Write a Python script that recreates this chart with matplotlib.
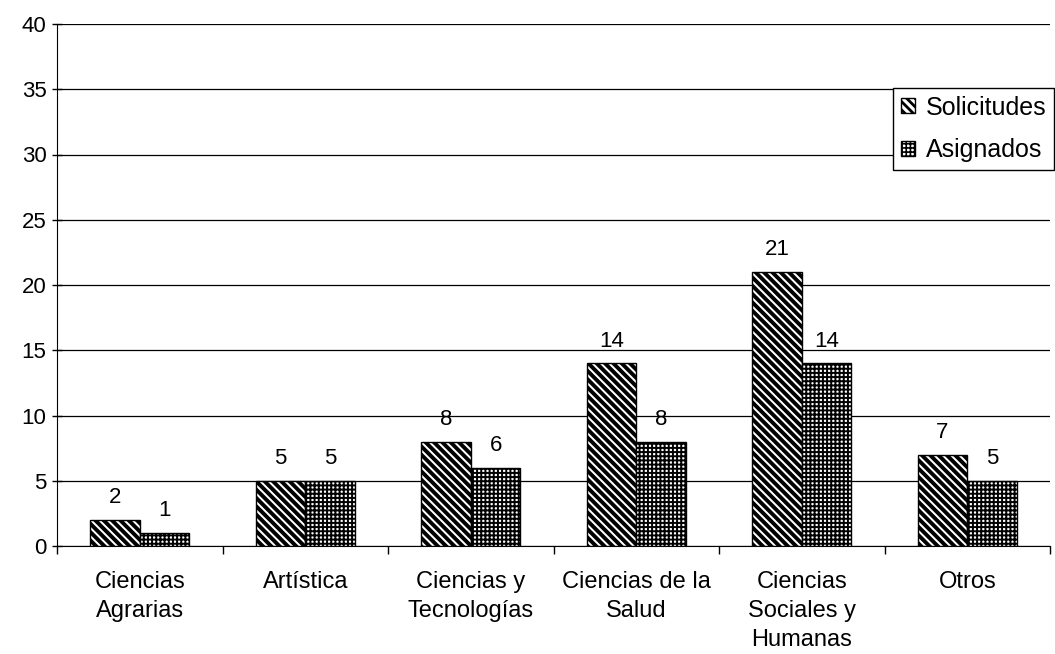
import matplotlib
matplotlib.use("Agg")
import matplotlib.pyplot as plt
import numpy as np

categories = ["Ciencias\nAgrarias", "Artística", "Ciencias y\nTecnologías",
              "Ciencias de la\nSalud", "Ciencias\nSociales y\nHumanas", "Otros"]
solicitudes = [2, 5, 8, 14, 21, 7]
asignados = [1, 5, 6, 8, 14, 5]
yticks = [0, 5, 10, 15, 20, 25, 30, 35, 40]

plt.rcParams['font.family'] = ['Liberation Sans', 'DejaVu Sans']
plt.rcParams['hatch.linewidth'] = 1.3
FS = 16

fig = plt.figure(figsize=(10.55, 6.54), dpi=100)
ax = fig.add_axes([57/1055, 1-546/654, (1050-57)/1055, (546-24)/654])

x = np.arange(len(categories))
w = 0.30
HLW1, HLW2 = 2.8, 1.4
b1 = ax.bar(x - w/2, solicitudes, w, facecolor='white', edgecolor='black',
            hatch='\\\\\\\\', linewidth=1.0, label='Solicitudes', zorder=3)
b2 = ax.bar(x + w/2, asignados, w, facecolor='white', edgecolor='black',
            hatch='++++', linewidth=1.0, label='Asignados', zorder=3)


def set_hlw(p, lw):
    try:
        p.set_hatch_linewidth(lw)
    except Exception:
        pass


for p in b1:
    set_hlw(p, HLW1)
for p in b2:
    set_hlw(p, HLW2)

for rect, v in zip(b1, solicitudes):
    ax.text(rect.get_x() + rect.get_width()/2, v + 0.9, str(v), ha='center',
            va='bottom', fontsize=FS)
for rect, v in zip(b2, asignados):
    ax.text(rect.get_x() + rect.get_width()/2, v + 0.9, str(v), ha='center',
            va='bottom', fontsize=FS)

ax.set_xlim(-0.5, len(categories) - 0.5)
ax.set_ylim(0, 40)
ax.set_yticks(yticks)
ax.tick_params(axis='y', labelsize=FS, length=7, direction='inout', width=1, pad=4)
ax.yaxis.grid(True, color='black', linewidth=0.9, zorder=0)
ax.set_axisbelow(True)

ax.set_xticks(x)
ax.set_xticklabels(categories, fontsize=17, va='top', linespacing=1.42)
ax.tick_params(axis='x', length=0, pad=18)
ax.set_xticks(np.arange(-0.5, len(categories), 1.0), minor=True)
ax.tick_params(axis='x', which='minor', length=6, direction='out', width=1)

for s in ['top', 'right']:
    ax.spines[s].set_visible(False)
ax.spines['left'].set_color('black')
ax.spines['bottom'].set_color('black')

leg = ax.legend(loc='upper right', bbox_to_anchor=(1.004, 0.877), fontsize=18,
                frameon=True, fancybox=False, edgecolor='black', framealpha=1,
                handlelength=0.55, handleheight=0.55, handletextpad=0.45,
                borderpad=0.3, labelspacing=0.75, borderaxespad=0.0)
leg.get_frame().set_linewidth(1.0)
hs = getattr(leg, 'legend_handles', None) or getattr(leg, 'legendHandles', [])
if len(hs) == 2:
    set_hlw(hs[0], 2.0)
    set_hlw(hs[1], 1.2)

fig.savefig("out.png", dpi=100)
